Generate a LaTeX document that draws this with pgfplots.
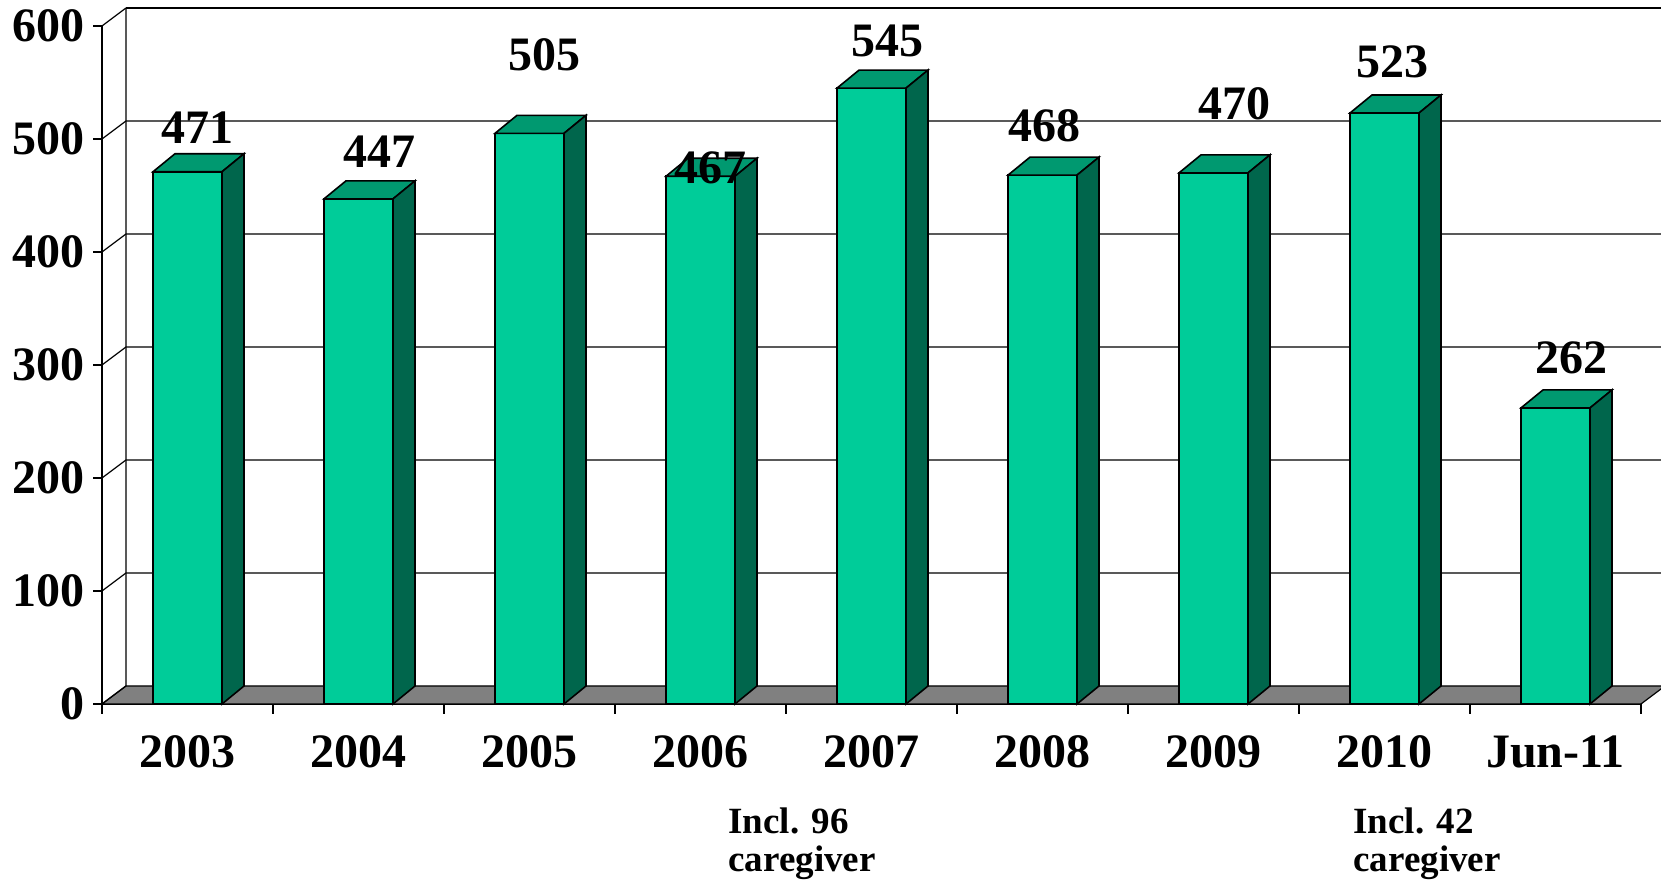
\documentclass[border=0pt]{standalone}
\usepackage{fontspec}
\setmainfont{Liberation Serif}
\usepackage{pgfplots}
\usepackage{pgfplotstable}
\pgfplotsset{compat=1.18}

\definecolor{barfront}{RGB}{0,204,153}
\definecolor{bartop}{RGB}{0,153,112}
\definecolor{barside}{RGB}{0,102,76}
\definecolor{floorgray}{RGB}{128,128,128}

% a mark that draws nothing (the 3D faces come from the scatter code)
\pgfdeclareplotmark{empty}{}

% bar values, one per category (x = category centre)
\pgfplotstableread{
x   v
0.5 471
1.5 447
2.5 505
3.5 467
4.5 545
5.5 468
6.5 470
7.5 523
8.5 262
}\counts

% where the value labels sit (baseline centre)
\pgfplotstableread{
x     y     lab
0.556 495.6 471
1.620 475.2 447
2.585 560.2 505
3.561 460.2 467
4.591 572.6 545
5.509 498.2 468
6.620 516.8 470
7.544 554.0 523
8.591 292.9 262
}\labelpos

\begin{document}
\begin{tikzpicture}
  \begin{axis}[
    x = 85.5pt, y = 0.565pt,
    xmin = 0, xmax = 9, ymin = 0, ymax = 600,
    clip = false,
    axis lines* = left,
    axis line style = {line width = 0.8pt},
    tick align = outside,
    major tick length = 4.5pt,
    minor tick length = 5pt,
    tick style = {black, line width = 0.8pt},
    ytick = {0,100,...,600},
    xtick = {0.5,1.5,...,8.5},
    xticklabels = {2003,2004,2005,2006,2007,2008,2009,2010,Jun-11},
    minor xtick = {0,1,...,9},
    major x tick style = {draw = none},
    /pgf/number format/assume math mode = true,
    ticklabel style = {font = \fontsize{24}{24}\selectfont\bfseries},
    yticklabel style = {inner xsep = 4pt},
    xticklabel style = {inner sep = 0pt, yshift = -11pt},
  ]
    % floor
    \filldraw[fill = floorgray, draw = black, line width = 0.6pt]
      (axis cs:0,0) -- (axis cs:9,0) -- ++(12pt,9pt) -- ++(-769.5pt,0pt) -- cycle;
    % back wall, grid lines and left wall edges
    \pgfplotsinvokeforeach{100,200,300,400,500}{
      \draw[black, line width = 0.6pt] (axis cs:0,#1) -- ++(12pt,9pt) -- ++(800pt,0pt);
    }
    \draw[black, line width = 0.6pt] (axis cs:0,0) -- ++(12pt,9pt) -- ++(0pt,339pt);
    \draw[black, line width = 0.6pt] (axis cs:0,600) -- ++(12pt,9pt);
    \draw[black, line width = 1.1pt] (axis cs:0,600) ++(12pt,9pt) -- ++(800pt,0pt);

    % front faces
    \addplot[ybar, bar width = 34.5pt, fill = barfront, draw = black, line width = 0.8pt]
      table[x = x, y = v] {\counts};

    % top and side faces
    \addplot[
      scatter, only marks, mark = empty,
      visualization depends on = {rawy \as \rawy},
      scatter/@pre marker code/.code = {
        \filldraw[fill = bartop, draw = black, line width = 0.8pt]
          (-17.25pt,0pt) -- (17.25pt,0pt) -- ++(11pt,9pt) -- ++(-34.5pt,0pt) -- cycle;
        \filldraw[fill = barside, draw = black, line width = 0.8pt]
          (17.25pt,0pt) -- ++(11pt,9pt) -- ++(0pt,{-\rawy*0.565pt}) -- ++(-11pt,-9pt) -- cycle;
      },
      scatter/@post marker code/.code = {},
    ] table[x = x, y = v] {\counts};

    % value labels
    \addplot[
      draw = none, mark = none,
      nodes near coords,
      point meta = explicit symbolic,
      nodes near coords align = {anchor = base},
      every node near coord/.append style = {anchor = base, inner sep = 0pt,
        font = \fontsize{24}{24}\selectfont\bfseries},
    ] table[x = x, y = y, meta = lab] {\labelpos};

    % notes under the axis
    \node[anchor = base west, inner sep = 0pt, font = \fontsize{18.5}{18.5}\selectfont\bfseries]
      at (axis cs:3.661,-114.2) {Incl. 96};
    \node[anchor = base west, inner sep = 0pt, font = \fontsize{18.5}{18.5}\selectfont\bfseries]
      at (axis cs:3.661,-148.0) {caregiver};
    \node[anchor = base west, inner sep = 0pt, font = \fontsize{18.5}{18.5}\selectfont\bfseries]
      at (axis cs:7.316,-114.2) {Incl. 42};
    \node[anchor = base west, inner sep = 0pt, font = \fontsize{18.5}{18.5}\selectfont\bfseries]
      at (axis cs:7.316,-148.0) {caregiver};

    \coordinate (bbl) at (axis cs:-0.5965,-161.95);
    \coordinate (btr) at (axis cs:9.117,623.0);
  \end{axis}
  \pgfresetboundingbox
  \path[use as bounding box] (bbl) rectangle (btr);
\end{tikzpicture}
\end{document}
